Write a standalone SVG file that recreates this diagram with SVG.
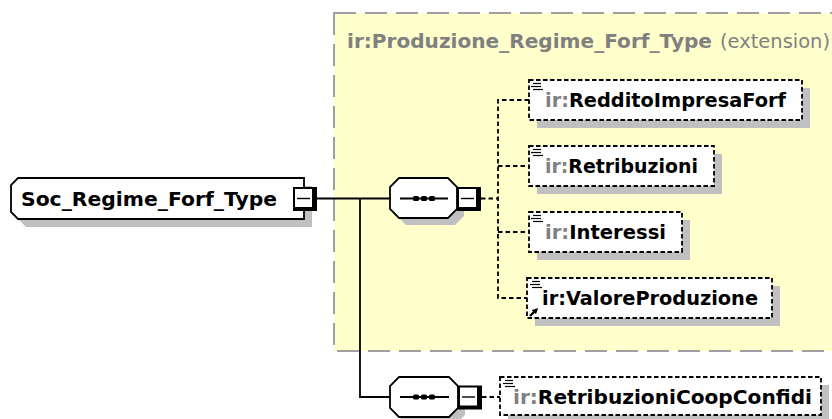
<svg xmlns="http://www.w3.org/2000/svg" width="832" height="419" viewBox="0 0 832 419">
<defs>
<style>
.t{font-family:"DejaVu Sans","Verdana",sans-serif;font-size:19px;font-weight:bold;fill:#000}
.g{fill:#808080}
.title{font-family:"DejaVu Sans","Verdana",sans-serif;font-size:19px;fill:#808080}
.sh{fill:#c0c0c0}
.node{fill:#fff;stroke:#000;stroke-width:1.8}
.el{fill:#fff;stroke:#000;stroke-width:1.8;stroke-dasharray:4.5 2.5}
.solid{fill:none;stroke:#000;stroke-width:1.8}
.dash{fill:none;stroke:#000;stroke-width:1.8;stroke-dasharray:4.5 3}
.ico{stroke:#000;stroke-width:1.2}
</style>
<marker id="ah" viewBox="0 0 6 6" refX="3" refY="3" markerWidth="6" markerHeight="6" orient="auto" markerUnits="userSpaceOnUse">
<path d="M0,0 L6,3 L0,6 z" fill="#000"/>
</marker>
<g id="minusTpl">
<rect x="0" y="0" width="24" height="24" fill="#000"/>
<rect x="2" y="2" width="17" height="18" fill="#fff"/>
<line x1="4" y1="11.5" x2="17" y2="11.5" stroke="#000" stroke-width="1.4"/>
</g>
<g id="icoTpl">
<line class="ico" x1="2" y1="0.5" x2="10" y2="0.5"/>
<line class="ico" x1="0" y1="3.5" x2="10" y2="3.5"/>
<line class="ico" x1="2" y1="6.5" x2="12" y2="6.5"/>
</g>
</defs>
<rect width="832" height="419" fill="#fff"/>

<g id="container">
<rect x="334" y="13" width="510" height="338" fill="#ffffcc" stroke="#a0a0a0" stroke-width="2" stroke-dasharray="22 9"/>
<text class="title" x="347" y="48" font-weight="bold" textLength="365" lengthAdjust="spacingAndGlyphs">ir:Produzione_Regime_Forf_Type</text>
<text class="title" x="720" y="48" textLength="110" lengthAdjust="spacingAndGlyphs">(extension)</text>
</g>

<g id="connectors">
<path class="solid" d="M316,198.5 H390"/>
<path class="solid" d="M360,198.5 V397 H390"/>
<path class="dash" d="M481,198.5 H498"/>
<path class="dash" d="M529,100 H498 V298 H527"/>
<path class="dash" d="M498,166 H529"/>
<path class="dash" d="M498,232 H529"/>
<path class="dash" d="M482,397 H500"/>
</g>

<g id="Soc_Regime_Forf_Type">
<polygon class="sh" points="26,186 312,186 312,227 26,227 19,220 19,193"/>
<polygon class="node" points="18,178 304,178 304,219 18,219 11,212 11,185"/>
<text class="t" x="21" y="206" textLength="256" lengthAdjust="spacingAndGlyphs">Soc_Regime_Forf_Type</text>
<use href="#minusTpl" x="293" y="187"/>
</g>

<g id="seq1">
<polygon class="sh" points="406,185 455,185 464,194 464,216 455,225 406,225 397,216 397,194"/>
<polygon class="node" points="399,178 448,178 457,187 457,209 448,218 399,218 390,209 390,187"/>
<line x1="400" y1="198.5" x2="448" y2="198.5" stroke="#000" stroke-width="1.8"/>
<rect x="413" y="196" width="6" height="5" rx="1.5" fill="#000"/>
<rect x="421" y="196" width="6" height="5" rx="1.5" fill="#000"/>
<rect x="429" y="196" width="6" height="5" rx="1.5" fill="#000"/>
<use href="#minusTpl" x="457" y="187"/>
</g>

<g id="seq2">
<polygon class="sh" points="406,384 456,384 465,393 465,415 456,424 406,424 397,415 397,393"/>
<polygon class="node" points="399,377 449,377 458,386 458,408 449,417 399,417 390,408 390,386"/>
<line x1="400" y1="397" x2="449" y2="397" stroke="#000" stroke-width="1.8"/>
<rect x="413" y="394.5" width="6" height="5" rx="1.5" fill="#000"/>
<rect x="421" y="394.5" width="6" height="5" rx="1.5" fill="#000"/>
<rect x="429" y="394.5" width="6" height="5" rx="1.5" fill="#000"/>
<use href="#minusTpl" x="458" y="385.5"/>
</g>

<g id="RedditoImpresaForf">
<rect class="sh" x="537" y="88" width="273" height="40"/>
<rect class="el" x="529" y="80" width="273" height="40"/>
<use href="#icoTpl" x="531" y="83"/>
<text class="t" x="545" y="107" textLength="241" lengthAdjust="spacingAndGlyphs"><tspan class="g">ir:</tspan>RedditoImpresaForf</text>
</g>

<g id="Retribuzioni">
<rect class="sh" x="537" y="154" width="185" height="40"/>
<rect class="el" x="529" y="146" width="185" height="40"/>
<use href="#icoTpl" x="531" y="149"/>
<text class="t" x="545" y="173" textLength="153" lengthAdjust="spacingAndGlyphs"><tspan class="g">ir:</tspan>Retribuzioni</text>
</g>

<g id="Interessi">
<rect class="sh" x="537" y="220" width="153" height="40"/>
<rect class="el" x="529" y="212" width="153" height="40"/>
<use href="#icoTpl" x="531" y="215"/>
<text class="t" x="545" y="239" textLength="121" lengthAdjust="spacingAndGlyphs"><tspan class="g">ir:</tspan>Interessi</text>
</g>

<g id="ValoreProduzione">
<rect class="sh" x="535" y="286" width="245" height="40"/>
<rect class="el" x="527" y="278" width="245" height="40"/>
<use href="#icoTpl" x="530" y="281"/>
<line x1="530" y1="316" x2="536" y2="310" stroke="#000" stroke-width="2.4" marker-end="url(#ah)"/>
<text class="t" x="542" y="305" textLength="216" lengthAdjust="spacingAndGlyphs">ir:ValoreProduzione</text>
</g>

<g id="RetribuzioniCoopConfidi">
<rect class="sh" x="508" y="385" width="321" height="38"/>
<rect class="el" x="500" y="377" width="321" height="38"/>
<use href="#icoTpl" x="503" y="380"/>
<text class="t" x="513" y="404" textLength="299" lengthAdjust="spacingAndGlyphs"><tspan class="g">ir:</tspan>RetribuzioniCoopConfidi</text>
</g>
</svg>
